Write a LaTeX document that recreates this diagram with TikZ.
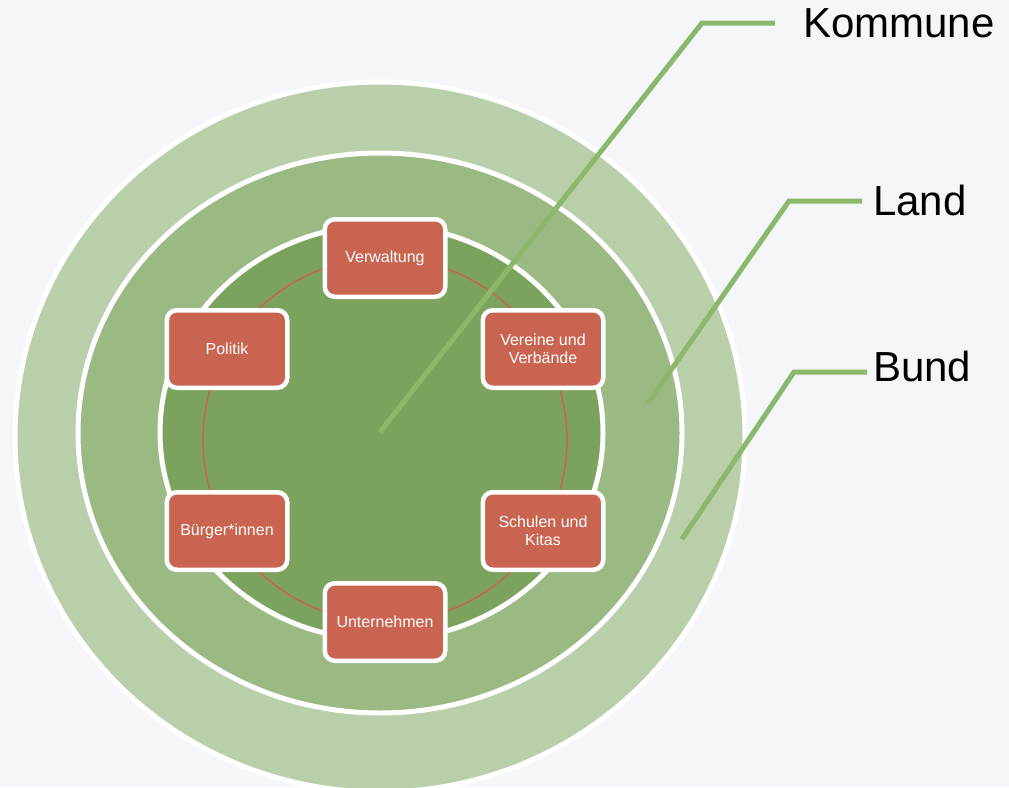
\documentclass[tikz,border=0pt]{standalone}
\usepackage{fontspec}
\setmainfont{Liberation Sans}
\definecolor{hintergrund}{HTML}{F4F6F9}
\definecolor{bund}{HTML}{B9CFA9}
\definecolor{land}{HTML}{9BBA83}
\definecolor{kommune}{HTML}{7CA35D}
\definecolor{akteur}{HTML}{C8644F}
\definecolor{hinweis}{HTML}{8DB86B}
\tikzset{
  ebene/.style={draw=white,line width=5pt},
  hinweislinie/.style={draw=hinweis,line width=5pt},
  akteurbox/.style={draw=white,line width=4.5pt,fill=akteur,rounded corners=10pt,
    minimum width=120.5pt,minimum height=77.5pt,inner sep=2pt,text=white,align=center,
    font=\fontsize{16}{17.5}\selectfont},
  ebenenlabel/.style={anchor=base west,inner sep=0pt,font=\fontsize{42}{50}\selectfont}
}

\begin{document}
\begin{tikzpicture}[x=1pt,y=-1pt]
\fill[hintergrund] (0,0) rectangle (1009,787);
\useasboundingbox (0,0) rectangle (1009,787);
% drei Ebenen
\draw[ebene,fill=bund] (380,437) ellipse [x radius=365, y radius=355];
\draw[ebene,fill=land] (380,433) ellipse [x radius=302, y radius=280];
\draw[ebene,fill=kommune] (381.5,432.5) ellipse [x radius=221.5, y radius=207.5];
\coordinate (mitte) at (385,440);
\draw[akteur,line width=1.5pt] (mitte) circle [radius=182];
% Hinweislinien
\coordinate (kommune-fuss) at (380,432);
\coordinate (kommune-knick) at (702,23);
\coordinate (kommune-ende) at (775,23);
\coordinate (land-fuss) at (648,403);
\coordinate (land-knick) at (789,201);
\coordinate (land-ende) at (862,201);
\coordinate (bund-fuss) at (682,539);
\coordinate (bund-knick) at (794,372);
\coordinate (bund-ende) at (867,372);
\draw[hinweislinie] (kommune-fuss) -- (kommune-knick) -- (kommune-ende);
\draw[hinweislinie] (land-fuss) -- (land-knick) -- (land-ende);
\draw[hinweislinie] (bund-fuss) -- (bund-knick) -- (bund-ende);
\node[ebenenlabel] (kommune-text) at (803,37) {Kommune};
\node[ebenenlabel] (land-text) at (873,215) {Land};
\node[ebenenlabel] (bund-text) at (873,381) {Bund};
% Akteure
\node[akteurbox] (verwaltung) at (385,258) {Verwaltung};
\node[akteurbox] (vereine) at (543,349) {Vereine und\\Verbände};
\node[akteurbox] (schulen) at (543,531) {Schulen und\\Kitas};
\node[akteurbox] (unternehmen) at (385,622) {Unternehmen};
\node[akteurbox] (buerger) at (227,531) {Bürger*innen};
\node[akteurbox] (politik) at (227,349) {Politik};
\end{tikzpicture}
\end{document}
